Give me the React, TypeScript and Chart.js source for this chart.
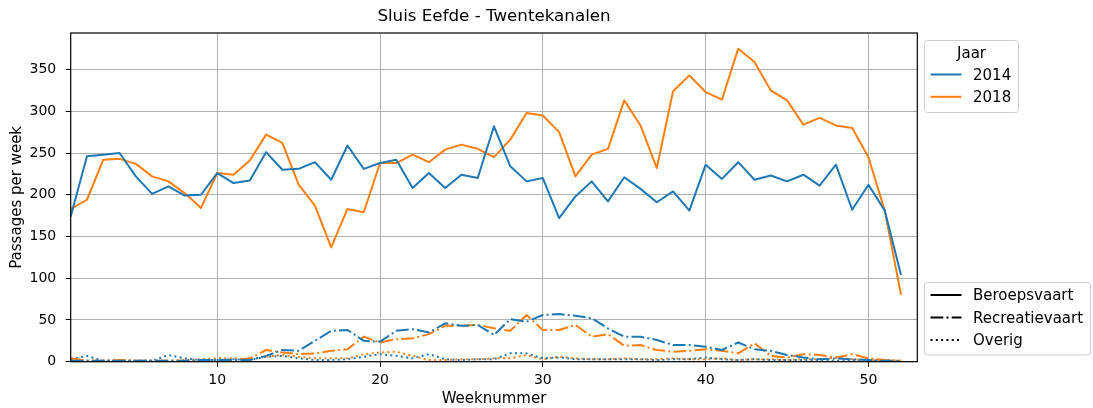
import React, { useEffect, useRef } from "react";
import { Chart, registerables } from "chart.js";

Chart.register(...registerables);

// ---------- data ----------
const weeks = [
  1, 2, 3, 4, 5, 6, 7, 8, 9, 10, 11, 12, 13, 14, 15, 16, 17, 18, 19, 20, 21, 22, 23, 24, 25, 26,
  27, 28, 29, 30, 31, 32, 33, 34, 35, 36, 37, 38, 39, 40, 41, 42, 43, 44, 45, 46, 47, 48, 49, 50, 51, 52,
];

const beroeps2014 = [
  174, 246, 248, 250, 222, 201, 210, 199, 200, 226, 214, 217, 251, 230, 231, 239, 218, 259, 231, 238, 242, 208, 226, 208, 224, 220,
  282, 234, 216, 220, 172, 198, 216, 192, 221, 207, 191, 204, 181, 236, 219, 239, 218, 223, 216, 224, 211, 236, 182, 212, 181, 104,
];
const beroeps2018 = [
  183, 194, 242, 243, 237, 222, 216, 202, 184, 226, 224, 241, 272, 262, 212, 187, 137, 183, 179, 238, 238, 248, 239, 254, 260, 255,
  245, 266, 298, 295, 275, 222, 248, 255, 313, 283, 232, 324, 343, 323, 314, 375, 359, 325, 313, 284, 292, 283, 280, 245, 181, 80,
];
const recreatie2014 = [
  1, 1, 1, 1, 1, 1, 1, 1, 2, 2, 2, 2, 7, 14, 13, 25, 37, 38, 25, 24, 37, 39, 35, 46, 43, 44,
  32, 51, 48, 56, 57, 55, 52, 40, 30, 30, 26, 20, 20, 18, 14, 23, 15, 13, 8, 5, 3, 4, 3, 2, 1, 1,
];
const recreatie2018 = [
  4, 1, 1, 2, 1, 1, 1, 1, 1, 1, 2, 4, 14, 11, 9, 10, 13, 15, 30, 23, 27, 28, 33, 43, 43, 44,
  40, 37, 56, 38, 38, 44, 30, 33, 19, 20, 14, 12, 13, 15, 13, 10, 22, 7, 5, 9, 8, 5, 9, 4, 2, 1,
];
const overig2014 = [
  3, 7, 1, 1, 1, 1, 8, 4, 2, 2, 3, 2, 6, 7, 4, 2, 2, 3, 6, 9, 7, 4, 9, 3, 2, 3,
  3, 10, 10, 4, 5, 3, 3, 3, 3, 3, 2, 3, 3, 5, 3, 2, 3, 2, 2, 2, 2, 1, 2, 1, 1, 0,
];
const overig2018 = [
  2, 1, 1, 2, 1, 1, 1, 2, 3, 4, 4, 3, 6, 8, 6, 4, 4, 4, 9, 11, 12, 7, 2, 2, 3, 3,
  4, 4, 8, 3, 6, 4, 3, 3, 4, 3, 3, 4, 3, 3, 4, 2, 3, 3, 2, 3, 3, 5, 3, 2, 2, 1,
];

const xTicks = [10, 20, 30, 40, 50];
const yTicks = [0, 50, 100, 150, 200, 250, 300, 350];
const years = ["2014", "2018"];
const typeNames = ["Beroepsvaart", "Recreatievaart", "Overig"];

const chartTitle = "Sluis Eefde - Twentekanalen";
const xTitle = "Weeknummer";
const yTitle = "Passages per week";
const legendTitle = "Jaar";

// ---------- styles ----------
const W = 1093;
const H = 408;
const FONT = "'DejaVu Sans', sans-serif";
const yearColors = ["#1f77b4", "#ff7f0e"];
const typeDashes: number[][] = [[], [12.8, 3.2, 2, 3.2], [2, 3.3]];

const AREA = { left: 70.7, right: 917.3, top: 33, bottom: 361.7 };

function roundRect(ctx: CanvasRenderingContext2D, x: number, y: number, w: number, h: number, r: number) {
  ctx.beginPath();
  ctx.moveTo(x + r, y);
  ctx.lineTo(x + w - r, y);
  ctx.quadraticCurveTo(x + w, y, x + w, y + r);
  ctx.lineTo(x + w, y + h - r);
  ctx.quadraticCurveTo(x + w, y + h, x + w - r, y + h);
  ctx.lineTo(x + r, y + h);
  ctx.quadraticCurveTo(x, y + h, x, y + h - r);
  ctx.lineTo(x, y + r);
  ctx.quadraticCurveTo(x, y, x + r, y);
  ctx.closePath();
}

const decorPlugin = {
  id: "decor",
  afterDatasetsDraw(chart: any) {
    const { ctx, chartArea } = chart;
    ctx.save();
    ctx.strokeStyle = "#000";
    ctx.lineWidth = 1.2;
    ctx.strokeRect(chartArea.left, chartArea.top, chartArea.right - chartArea.left, chartArea.bottom - chartArea.top);
    ctx.restore();
  },
  afterDraw(chart: any) {
    const { ctx, chartArea } = chart;
    ctx.save();
    // title
    ctx.fillStyle = "#000";
    ctx.font = `16.7px ${FONT}`;
    ctx.textAlign = "center";
    ctx.textBaseline = "alphabetic";
    ctx.fillText(chartTitle, (chartArea.left + chartArea.right) / 2, 20.7);

    const legendFont = `15px ${FONT}`;
    const drawBox = (x: number, y: number, w: number, h: number) => {
      roundRect(ctx, x, y, w, h, 3);
      ctx.fillStyle = "rgba(255,255,255,0.8)";
      ctx.fill();
      ctx.strokeStyle = "#cccccc";
      ctx.lineWidth = 1;
      ctx.stroke();
    };
    const drawHandle = (y: number, color: string, dash: number[]) => {
      ctx.beginPath();
      ctx.setLineDash(dash);
      ctx.lineCap = "butt";
      ctx.strokeStyle = color;
      ctx.lineWidth = 2;
      ctx.moveTo(930.5, y);
      ctx.lineTo(961.5, y);
      ctx.stroke();
      ctx.setLineDash([]);
    };
    const drawLabel = (text: string, y: number) => {
      ctx.fillStyle = "#000";
      ctx.font = legendFont;
      ctx.textAlign = "left";
      ctx.textBaseline = "alphabetic";
      ctx.fillText(text, 973, y + 5.3);
    };

    // legend 1: years
    drawBox(924.5, 40.5, 94, 72);
    ctx.fillStyle = "#000";
    ctx.font = legendFont;
    ctx.textAlign = "center";
    ctx.textBaseline = "alphabetic";
    ctx.fillText(legendTitle, 971.5, 58);
    const rows1 = [74.5, 96.8];
    years.forEach((yr, i) => {
      drawHandle(rows1[i], yearColors[i], []);
      drawLabel(yr, rows1[i]);
    });

    // legend 2: types
    drawBox(924.5, 282.5, 166, 72.5);
    const rows2 = [295, 317.5, 340];
    typeNames.forEach((t, i) => {
      drawHandle(rows2[i], "#000", typeDashes[i]);
      drawLabel(t, rows2[i]);
    });
    ctx.restore();
  },
};

export default function App() {
  const ref = useRef<HTMLCanvasElement | null>(null);

  useEffect(() => {
    document.body.style.margin = "0";
    if (!ref.current) return;
    const series = [
      [beroeps2014, recreatie2014, overig2014],
      [beroeps2018, recreatie2018, overig2018],
    ];
    const datasets: any[] = [];
    typeNames.forEach((t, ti) => {
      years.forEach((yr, yi) => {
        const vals = series[yi][ti];
        datasets.push({
          label: `${t} ${yr}`,
          data: weeks.map((w, i) => ({ x: w, y: vals[i] })),
          borderColor: yearColors[yi],
          backgroundColor: yearColors[yi],
          borderWidth: 2,
          borderDash: typeDashes[ti],
          borderCapStyle: "butt",
          borderJoinStyle: "round",
          pointRadius: 0,
          pointHoverRadius: 0,
          tension: 0,
          fill: false,
          clip: 0,
        });
      });
    });

    const tickFont = { family: FONT, size: 14 };
    const titleFont = { family: FONT, size: 15 };

    const chart = new Chart(ref.current, {
      type: "line",
      data: { datasets },
      options: {
        animation: false,
        responsive: false,
        maintainAspectRatio: false,
        devicePixelRatio: 1,
        events: [],
        layout: { padding: { left: 0, top: AREA.top, right: W - AREA.right, bottom: 0 } },
        plugins: { legend: { display: false }, title: { display: false }, tooltip: { enabled: false } },
        scales: {
          x: {
            type: "linear",
            min: 1,
            max: 53,
            afterBuildTicks: (s: any) => {
              s.ticks = xTicks.map((v) => ({ value: v }));
            },
            afterFit: (s: any) => {
              s.height = H - AREA.bottom;
            },
            grid: { color: "#b0b0b0", lineWidth: 1, tickColor: "#000", tickLength: 5, drawTicks: true },
            border: { display: false },
            ticks: { font: tickFont, color: "#000", padding: 5, maxRotation: 0, autoSkip: false },
            title: { display: true, text: xTitle, font: titleFont, color: "#000", padding: { top: 0, bottom: 0 } },
          },
          y: {
            type: "linear",
            min: 0,
            max: 393.75,
            afterBuildTicks: (s: any) => {
              s.ticks = yTicks.map((v) => ({ value: v }));
            },
            afterFit: (s: any) => {
              s.width = AREA.left;
            },
            grid: { color: "#b0b0b0", lineWidth: 1, tickColor: "#000", tickLength: 5, drawTicks: true },
            border: { display: false },
            ticks: { font: tickFont, color: "#000", padding: 9.5, autoSkip: false },
            title: { display: true, text: yTitle, font: titleFont, color: "#000", padding: { top: 8.5, bottom: 0 } },
          },
        },
      },
      plugins: [decorPlugin],
    } as any);

    return () => chart.destroy();
  }, []);

  return (
    <div style={{ width: W, height: H, background: "#fff" }}>
      <canvas ref={ref} width={W} height={H} style={{ display: "block", width: W, height: H }} />
    </div>
  );
}
